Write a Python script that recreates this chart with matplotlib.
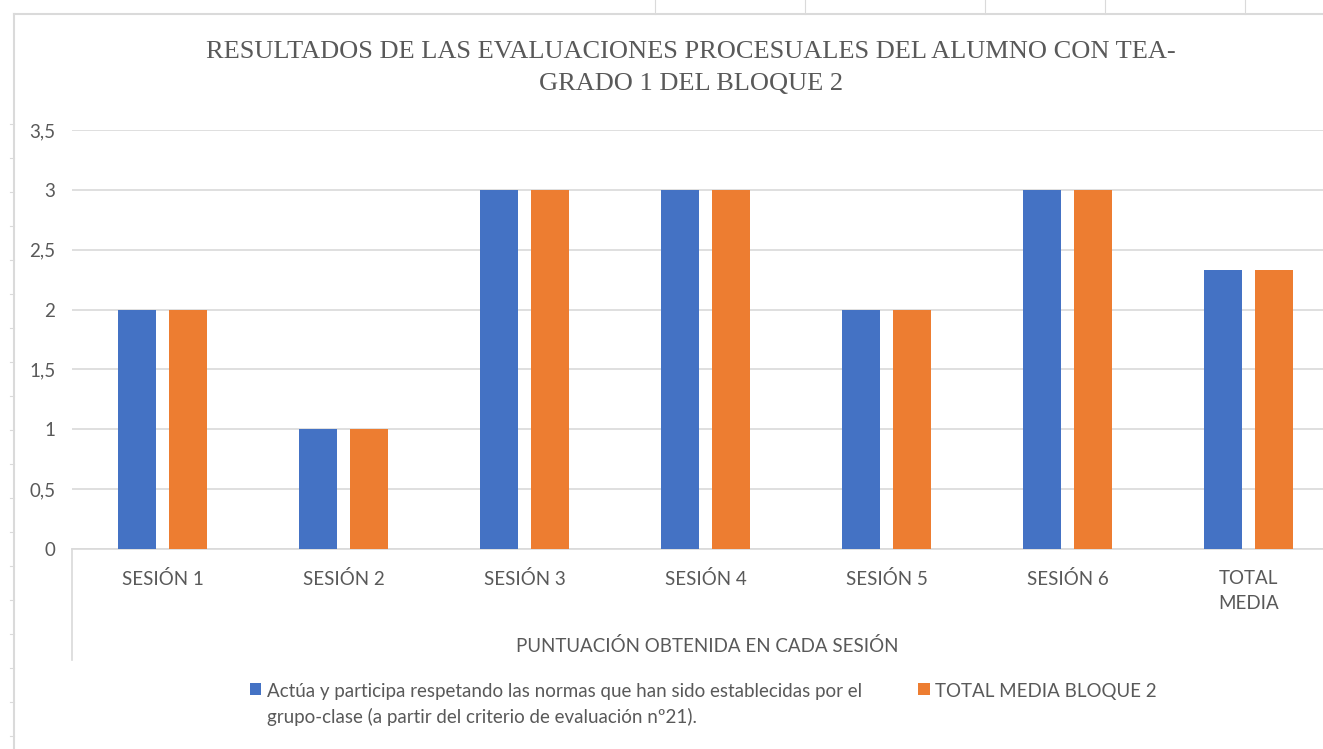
import matplotlib.pyplot as plt
from matplotlib.lines import Line2D
import numpy as np

sesiones = ['SESIÓN 1', 'SESIÓN 2', 'SESIÓN 3', 'SESIÓN 4', 'SESIÓN 5', 'SESIÓN 6', 'TOTAL\nMEDIA']
criterio_21 = [2, 1, 3, 3, 2, 3, 2.33]
media_bloque2 = [2, 1, 3, 3, 2, 3, 2.33]
y_ticks = [0, 0.5, 1, 1.5, 2, 2.5, 3, 3.5]
y_labels = ['0', '0,5', '1', '1,5', '2', '2,5', '3', '3,5']

serie1 = ('Actúa y participa respetando las normas que han sido establecidas por el\n'
          'grupo-clase (a partir del criterio de evaluación nº21).')
serie2 = 'TOTAL MEDIA BLOQUE 2'

AZUL = '#4472C4'
NARANJA = '#ED7D31'
GRIS = '#595959'
REJILLA = '#D9D9D9'

plt.rcParams['font.family'] = ['Lato', 'DejaVu Sans']

W, H = 1323, 749
fig = plt.figure(figsize=(W / 100, H / 100), dpi=100)
# eje que sobresale un poco por la derecha, como en la hoja de cálculo
ax = fig.add_axes([72 / W, 1 - 549 / H, 1267 / W, 419 / H])

x = np.arange(len(sesiones))
ancho = 0.215
ax.bar(x - 0.141, criterio_21, ancho, color=AZUL, label=serie1, zorder=3)
ax.bar(x + 0.141, media_bloque2, ancho, color=NARANJA, label=serie2, zorder=3)

ax.set_xlim(-0.5, len(sesiones) - 0.5)
ax.set_ylim(0, 3.5)
ax.set_yticks(y_ticks)
ax.set_yticklabels(y_labels)
ax.set_xticks(x)
ax.set_xticklabels(sesiones, linespacing=1.6)
ax.tick_params(axis='y', length=0, pad=12, labelsize=13.5, labelcolor=GRIS)
ax.tick_params(axis='x', length=0, pad=15, labelsize=13.5, labelcolor=GRIS)

ax.grid(axis='y', color=REJILLA, linewidth=1.2, zorder=0)
for s in ['top', 'right', 'left']:
    ax.spines[s].set_visible(False)
ax.spines['bottom'].set_color(REJILLA)
ax.spines['bottom'].set_linewidth(1.2)

# separador del eje de categorías de dos niveles
ax.add_line(Line2D([0, 0], [0, -111 / 419], transform=ax.transAxes,
                   color=REJILLA, linewidth=1.2, clip_on=False))
fig.text(707 / W, 1 - 646 / H, 'PUNTUACIÓN OBTENIDA EN CADA SESIÓN',
         ha='center', va='center', fontsize=13.5, color=GRIS)

fig.text(691 / W, 1 - 68 / H,
         'RESULTADOS DE LAS EVALUACIONES PROCESUALES DEL ALUMNO CON TEA-\nGRADO 1 DEL BLOQUE 2',
         ha='center', va='center', fontsize=19, color=GRIS,
         family=['Liberation Serif', 'DejaVu Serif'], linespacing=1.6)

leg = fig.legend(loc='upper left', bbox_to_anchor=(250 / W, 1 - 683 / H), ncol=2,
                 frameon=False, fontsize=13.5, labelcolor=GRIS, handlelength=0.6,
                 handleheight=0.6, handletextpad=0.3, columnspacing=3.0,
                 borderaxespad=0, borderpad=0)
for t in leg.get_texts():
    t.set_linespacing(1.5)
# cuadro de color alineado con la primera línea del texto
leg._legend_handle_box.align = 'top'
for col in leg._legend_handle_box.get_children():
    for fila in col.get_children():
        fila.align = 'top'

# líneas de la hoja de cálculo alrededor del gráfico
gris_hoja = '#DADADA'
fig.add_artist(Line2D([14 / W, 1], [1 - 14 / H] * 2, color=gris_hoja, linewidth=1.5))
fig.add_artist(Line2D([14 / W] * 2, [0, 1 - 14 / H], color=gris_hoja, linewidth=1.5))
for xc in [655, 805, 985, 1105, 1245]:
    fig.add_artist(Line2D([xc / W] * 2, [1 - 14 / H, 1], color=gris_hoja, linewidth=0.8))
for yc in range(124, 740, 34):
    fig.add_artist(Line2D([10 / W, 14 / W], [1 - yc / H] * 2, color=gris_hoja, linewidth=0.8))

fig.savefig('out.png', dpi=100)
